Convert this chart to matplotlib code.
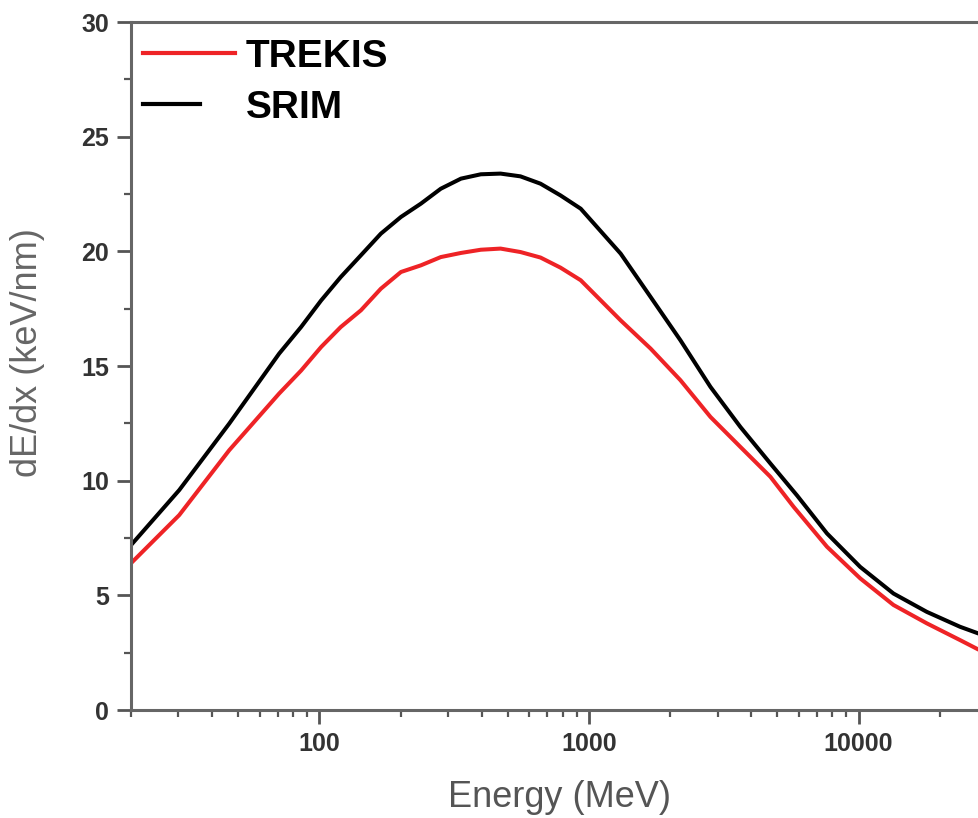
import matplotlib.pyplot as plt
from matplotlib.ticker import FixedLocator, LogLocator, NullFormatter
from matplotlib.legend_handler import HandlerLine2D

# energy (MeV) and stopping power dE/dx (keV/nm)
srim_e = [20, 30.2, 46.3, 70.9, 85.5, 101.5, 120, 142.6, 169, 200.7, 238, 282,
          335, 397, 470, 557, 661, 784, 932, 1311, 1693, 2185, 2823, 3647,
          4710, 5920, 7638, 10146, 13480, 17920, 23800, 27820, 30000]
srim_de = [7.19, 9.59, 12.49, 15.54, 16.70, 17.86, 18.88, 19.83, 20.77, 21.50,
           22.08, 22.73, 23.17, 23.36, 23.39, 23.27, 22.95, 22.44, 21.86,
           19.90, 18.01, 16.12, 14.09, 12.34, 10.75, 9.35, 7.70, 6.24, 5.08,
           4.28, 3.63, 3.34, 3.22]

trekis_e = [20, 30.2, 46.3, 70.9, 85.5, 101.5, 120, 142.6, 169, 200.7, 238, 282,
            335, 397, 470, 557, 661, 784, 932, 1311, 1693, 2185, 2823, 3647,
            4710, 5745, 7638, 10146, 13480, 17920, 23800, 27820, 30000]
trekis_de = [6.40, 8.50, 11.33, 13.80, 14.80, 15.83, 16.70, 17.43, 18.37, 19.10,
             19.39, 19.75, 19.93, 20.07, 20.12, 19.97, 19.73, 19.29, 18.74,
             16.99, 15.76, 14.38, 12.78, 11.47, 10.17, 8.86, 7.12, 5.74, 4.58,
             3.78, 3.05, 2.64, 2.52]

x_ticks = [100, 1000, 10000]
x_tick_labels = ["100", "1000", "10000"]
y_ticks = [0, 5, 10, 15, 20, 25, 30]

plt.rcParams['font.family'] = ['Liberation Sans', 'DejaVu Sans']

fig = plt.figure(figsize=(9.79, 8.18), dpi=100)
ax = fig.add_axes([0.1338, 0.1320, 0.8745, 0.8411])

ax.plot(trekis_e, trekis_de, color="#ee2326", linewidth=2.9, label="TREKIS")
ax.plot(srim_e, srim_de, color="black", linewidth=2.9, label="SRIM")

ax.set_xscale("log")
ax.set_xlim(20, 30000)
ax.set_ylim(0, 30)

ax.xaxis.set_major_locator(FixedLocator(x_ticks))
ax.set_xticklabels(x_tick_labels)
ax.xaxis.set_minor_locator(LogLocator(base=10, subs=range(2, 10), numticks=20))
ax.xaxis.set_minor_formatter(NullFormatter())
ax.set_yticks(y_ticks)
ax.yaxis.set_minor_locator(FixedLocator([2.5, 7.5, 12.5, 17.5, 22.5, 27.5]))

spine_col = "#666666"
for side in ["left", "bottom", "top"]:
    ax.spines[side].set_color(spine_col)
    ax.spines[side].set_linewidth(2.2)
ax.spines["right"].set_visible(False)

ax.tick_params(which="major", direction="out", length=10, width=2, color="#555555",
               labelsize=18, labelcolor="#333333", pad=6)
ax.tick_params(which="minor", direction="out", length=5, width=1.6, color="#555555")
for lab in ax.get_xticklabels() + ax.get_yticklabels():
    lab.set_fontweight("bold")

ax.set_xlabel("Energy (MeV)", fontsize=26, color="#555555", labelpad=17)
ax.set_ylabel("dE/dx (keV/nm)", fontsize=26, color="#666666")
ax.yaxis.set_label_coords(-0.1005, 0.52)


# black legend sample is drawn shorter than the red one
class ShortLine(HandlerLine2D):
    def create_artists(self, legend, orig_handle, xdescent, ydescent, width,
                       height, fontsize, trans):
        return super().create_artists(legend, orig_handle, xdescent, ydescent,
                                      width * 0.62, height, fontsize, trans)


lines = ax.get_lines()
leg = ax.legend(handles=lines, loc="upper left", bbox_to_anchor=(-0.005, 1.0),
                frameon=False, prop={"size": 28, "weight": "bold"},
                handlelength=2.35, handletextpad=0.28, labelspacing=0.38,
                borderpad=0.2, borderaxespad=0.23,
                handler_map={lines[1]: ShortLine()})
for h in leg.get_lines():
    h.set_linewidth(3)

fig.savefig("out.png", dpi=100)
